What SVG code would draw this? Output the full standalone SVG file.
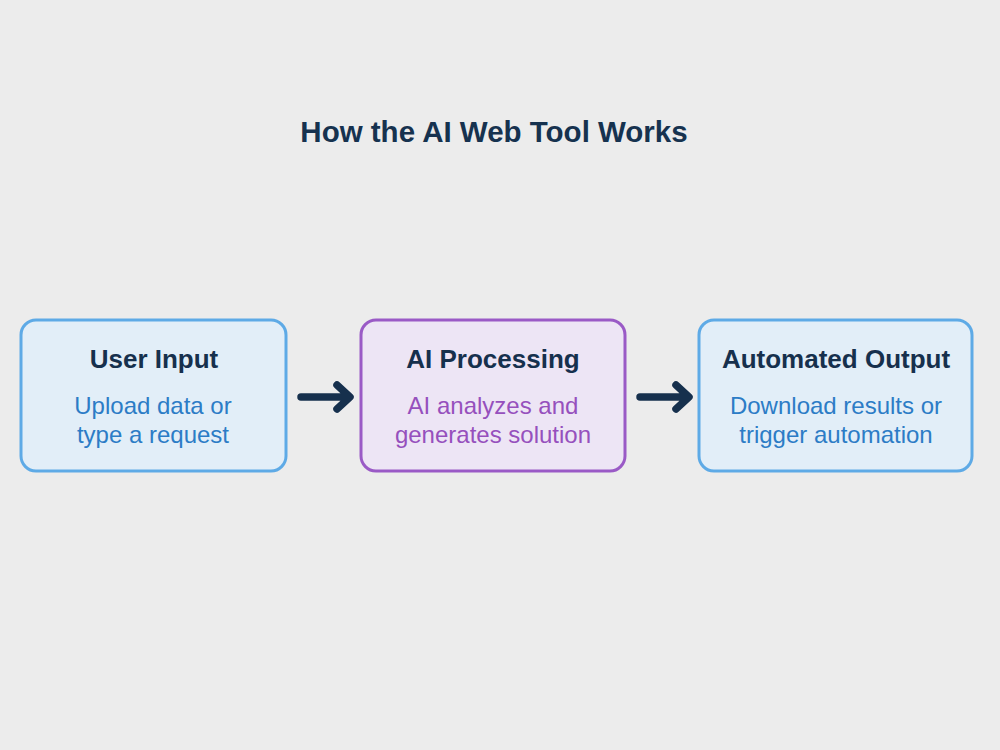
<svg xmlns="http://www.w3.org/2000/svg" width="1000" height="750" viewBox="0 0 1000 750">
<style>
.title{font-family:"Liberation Sans",Arial,sans-serif;font-weight:bold;font-size:29.5px;fill:#16324f;text-anchor:middle}
.nt{font-family:"Liberation Sans",Arial,sans-serif;font-weight:bold;font-size:26px;fill:#16304d;text-anchor:middle}
.sub{font-family:"Liberation Sans",Arial,sans-serif;font-size:24px;text-anchor:middle}
.blue rect{fill:#e2eef8;stroke:#5eaae6;stroke-width:3}
.blue .sub{fill:#2c7cc6}
.purple rect{fill:#ede5f5;stroke:#9a5ac6;stroke-width:3}
.purple .sub{fill:#9650bd}
.arrow{fill:none;stroke:#16304d;stroke-width:7.5;stroke-linecap:round;stroke-linejoin:round}
</style>
<rect width="1000" height="750" fill="#ececec"/>
<text class="title" x="494" y="142">How the AI Web Tool Works</text>
<g id="user-input" class="blue">
<rect x="21" y="320" width="265" height="151" rx="15"/>
<text class="nt" x="154" y="368">User Input</text>
<text class="sub" x="153" y="414">Upload data or</text>
<text class="sub" x="153" y="443">type a request</text>
</g>
<g id="ai-processing" class="purple">
<rect x="361" y="320" width="264" height="151" rx="15"/>
<text class="nt" x="493" y="368">AI Processing</text>
<text class="sub" x="493" y="414">AI analyzes and</text>
<text class="sub" x="493" y="443">generates solution</text>
</g>
<g id="automated-output" class="blue">
<rect x="699" y="320" width="273" height="151" rx="15"/>
<text class="nt" x="836" y="368">Automated Output</text>
<text class="sub" x="836" y="414">Download results or</text>
<text class="sub" x="836" y="443">trigger automation</text>
</g>
<g id="connectors">
<path class="arrow" d="M301 397 H348 M337 385 L350 397 L337 409"/>
<path class="arrow" d="M640 397 H687 M676 385 L689 397 L676 409"/>
</g>
</svg>
